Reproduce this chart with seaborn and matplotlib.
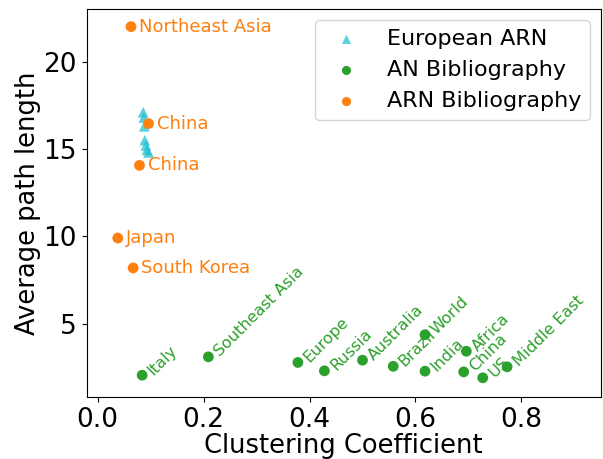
import matplotlib
matplotlib.use("Agg")
import matplotlib.pyplot as plt
import seaborn as sns
import pandas as pd

# European ARN (triangles)
eu_cc = [0.086, 0.087, 0.088, 0.089, 0.091, 0.093, 0.096]
eu_apl = [17.1, 16.8, 16.3, 15.5, 15.2, 14.95, 14.8]

# AN Bibliography
an_names = ["Italy", "Southeast Asia", "Europe", "Russia", "Australia", "Brazil",
            "World", "India", "Africa", "China", "US", "Middle East"]
an_cc = [0.084, 0.209, 0.378, 0.428, 0.500, 0.558, 0.618, 0.618, 0.696, 0.691, 0.727, 0.773]
an_apl = [2.05, 3.10, 2.78, 2.30, 2.91, 2.56, 4.37, 2.28, 3.42, 2.24, 1.90, 2.53]

# ARN Bibliography
arn_names = ["Northeast Asia", "China", "China", "Japan", "South Korea"]
arn_cc = [0.063, 0.096, 0.079, 0.038, 0.067]
arn_apl = [22.0, 16.45, 14.06, 9.9, 8.19]

fig = plt.figure(figsize=(6.03, 4.59), dpi=100)
ax = fig.add_axes([0.1435, 0.135, 0.853, 0.845])

eu = pd.DataFrame({"cc": eu_cc, "apl": eu_apl})
an = pd.DataFrame({"cc": an_cc, "apl": an_apl})
arn = pd.DataFrame({"cc": arn_cc, "apl": arn_apl})

sns.scatterplot(data=eu, x="cc", y="apl", marker="^", color="tab:cyan", alpha=0.7,
                s=60, edgecolor="none", label="European ARN", ax=ax)
sns.scatterplot(data=an, x="cc", y="apl", marker="o", color="tab:green",
                s=60, edgecolor="none", label="AN Bibliography", ax=ax)
sns.scatterplot(data=arn, x="cc", y="apl", marker="o", color="tab:orange",
                s=60, edgecolor="none", label="ARN Bibliography", ax=ax)

for name, x, y in zip(arn_names, arn_cc, arn_apl):
    ax.annotate(name, (x, y), xytext=(6, 0), textcoords="offset points",
                ha="left", va="center", color="tab:orange", fontsize=13)

for name, x, y in zip(an_names, an_cc, an_apl):
    ax.annotate(name, (x, y), xytext=(6, 2), textcoords="offset points",
                ha="left", va="center", rotation=45, rotation_mode="anchor",
                color="tab:green", fontsize=11.5)

ax.set_xlim(-0.021, 0.95)
ax.set_ylim(0.8, 23.0)
ax.set_xticks([0.0, 0.2, 0.4, 0.6, 0.8])
ax.set_yticks([5, 10, 15, 20])
ax.tick_params(labelsize=19)
ax.set_xlabel("Clustering Coefficient", fontsize=18.5, labelpad=0)
ax.set_ylabel("Average path length", fontsize=18.5, labelpad=2)
ax.legend(loc="upper right", fontsize=16, markerscale=0.85)

fig.savefig("out.png", dpi=100)
